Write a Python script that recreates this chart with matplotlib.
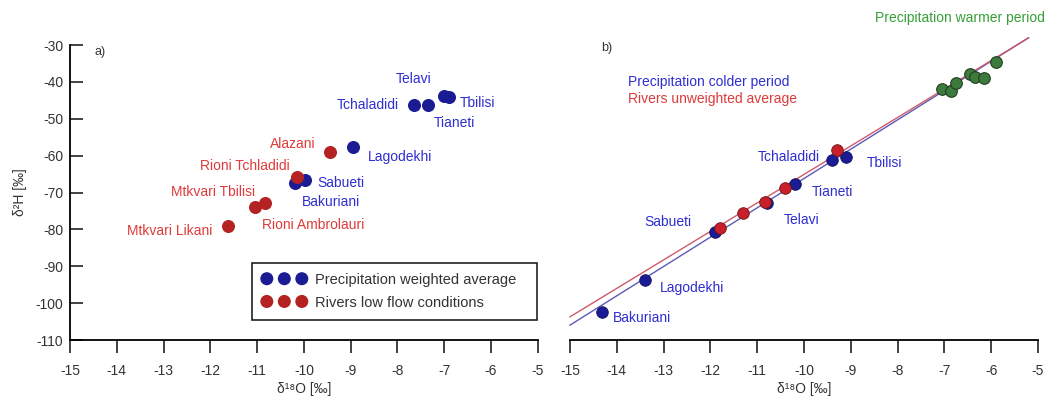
import matplotlib
matplotlib.use("Agg")
import matplotlib.pyplot as plt

plt.rcParams["font.family"] = ["Liberation Sans", "DejaVu Sans"]
plt.rcParams["axes.unicode_minus"] = False

# ---- panel a: precipitation weighted average / rivers low flow ----
a_prec_names = ["Telavi", "Tchaladidi", "Tbilisi", "Tianeti", "Lagodekhi",
                "Sabueti", "Bakuriani"]
a_prec_d18o = [-7.0, -7.65, -6.9, -7.35, -8.95, -9.98, -10.19]
a_prec_d2h = [-43.7, -46.2, -44.2, -46.2, -57.6, -66.6, -67.4]

a_riv_names = ["Alazani", "Rioni Tchladidi", "Mtkvari Tbilisi",
               "Rioni Ambrolauri", "Mtkvari Likani"]
a_riv_d18o = [-9.45, -10.15, -11.05, -10.83, -11.62]
a_riv_d2h = [-59.0, -65.8, -73.9, -72.8, -79.0]

# ---- panel b: precipitation colder / warmer period, rivers unweighted ----
b_prec_names = ["Tchaladidi", "Tbilisi", "Tianeti", "Telavi", "Sabueti",
                "Lagodekhi", "Bakuriani"]
b_prec_d18o = [-9.40, -9.10, -10.19, -10.79, -11.90, -13.40, -14.32]
b_prec_d2h = [-61.2, -60.4, -67.7, -72.8, -80.7, -93.7, -102.4]

b_riv_d18o = [-9.29, -10.41, -10.83, -11.30, -11.79]
b_riv_d2h = [-58.5, -68.8, -72.5, -75.5, -79.6]

b_warm_d18o = [-7.05, -6.85, -6.75, -6.45, -6.35, -6.15, -5.9]
b_warm_d2h = [-41.8, -42.5, -40.2, -37.8, -38.8, -39.0, -34.6]

# regression lines (slope, intercept)
prec_line = (7.95, 13.3)
riv_line = (7.72, 12.1)
line_x = [-15.0, -5.2]

x_ticks = list(range(-15, -4))
y_ticks = list(range(-110, -29, 10))

# label offsets in points (style only)
a_prec_offsets = [(-22, 12, "center"), (-11, 0, "right"), (8, -4, "left"),
                  (4, -13, "left"), (11, -7, "left"), (9, -2, "left"),
                  (5, -14, "left")]
a_riv_offsets = [(-10, 6, "right"), (-5, 8, "right"), (0, 11, "right"),
                 (-2, -16, "left"), (-11, -4, "right")]
b_prec_offsets = [(-9, 2, "right"), (15, -4, "left"), (12, -6, "left"),
                  (12, -12, "left"), (-17, 7, "right"), (11, -6, "left"),
                  (8, -4, "left")]

BLUE = "#1b1b94"
RED = "#b42222"
BLUE_TXT = "#2e2ed2"
RED_TXT = "#e03a3a"
GREEN = "#3d7a3d"
GREEN_TXT = "#35a035"

fig = plt.figure(figsize=(10.49, 4.01), dpi=100)
ax1 = fig.add_axes([0.0667, 0.152, 0.446, 0.7357])
ax2 = fig.add_axes([0.5434, 0.152, 0.446, 0.7357])

for ax in (ax1, ax2):
    ax.set_xlim(-15, -5)
    ax.set_ylim(-110, -30)
    ax.set_xticks(x_ticks)
    for side in ("top", "right"):
        ax.spines[side].set_visible(False)
    ax.spines["bottom"].set_linewidth(1.3)
    ax.spines["left"].set_linewidth(1.3)
    ax.tick_params(axis="x", direction="out", length=9, width=1.3,
                   pad=8, labelsize=10, colors="#333333")
    ax.set_xlabel("δ¹⁸O [‰]", fontsize=10, labelpad=3, color="#333333")

ax1.set_yticks(y_ticks)
ax1.tick_params(axis="y", direction="in", length=9, width=1.3, pad=5,
                labelsize=10, colors="#333333")
ax1.set_ylabel("δ²H [‰]", fontsize=10, labelpad=6, color="#333333")

ax2.spines["left"].set_visible(False)
ax2.tick_params(axis="y", left=False, labelleft=False)

# ---- panel a ----
sp = ax1.scatter(a_prec_d18o, a_prec_d2h, s=70, color=BLUE, zorder=3,
                 label="Precipitation weighted average")
sr = ax1.scatter(a_riv_d18o, a_riv_d2h, s=70, color=RED, zorder=3,
                 label="Rivers low flow conditions")
for name, x, y, (dx, dy, ha) in zip(a_prec_names, a_prec_d18o, a_prec_d2h,
                                    a_prec_offsets):
    ax1.annotate(name, (x, y), xytext=(dx, dy), textcoords="offset points",
                 ha=ha, va="center", fontsize=10, color=BLUE_TXT)
for name, x, y, (dx, dy, ha) in zip(a_riv_names, a_riv_d18o, a_riv_d2h,
                                    a_riv_offsets):
    ax1.annotate(name, (x, y), xytext=(dx, dy), textcoords="offset points",
                 ha=ha, va="center", fontsize=10, color=RED_TXT)

leg = ax1.legend(handles=[sp, sr], loc="lower left",
                 bbox_to_anchor=(0.374, 0.044, 0.64, 0.21), mode="expand",
                 scatterpoints=3, scatteryoffsets=[0.5], fancybox=False,
                 framealpha=1, edgecolor="#222222", fontsize=10.5,
                 handletextpad=0.6, borderpad=0.7, labelspacing=0.6,
                 handlelength=3.0)
leg.get_frame().set_linewidth(1.2)
for t in leg.get_texts():
    t.set_color("#333333")

ax1.text(0.064, 0.976, "a)", transform=ax1.transAxes, fontsize=9,
         ha="center", va="center", color="#333333")

# ---- panel b ----
ax2.plot(line_x, [prec_line[0] * v + prec_line[1] for v in line_x],
         color="#5a5ab8", lw=1.0, zorder=2, clip_on=False)
ax2.plot(line_x, [riv_line[0] * v + riv_line[1] for v in line_x],
         color="#cf5a6a", lw=1.0, zorder=2, clip_on=False)

ax2.scatter(b_warm_d18o, b_warm_d2h, s=70, color=GREEN, edgecolor="#1f3f1f",
            linewidth=0.8, zorder=3)
ax2.scatter(b_prec_d18o, b_prec_d2h, s=70, color=BLUE, edgecolor="#151560",
            linewidth=0.6, zorder=3)
ax2.scatter(b_riv_d18o, b_riv_d2h, s=70, color="#c8202a", edgecolor="#6a1515",
            linewidth=0.6, zorder=4)
for name, x, y, (dx, dy, ha) in zip(b_prec_names, b_prec_d18o, b_prec_d2h,
                                    b_prec_offsets):
    ax2.annotate(name, (x, y), xytext=(dx, dy), textcoords="offset points",
                 ha=ha, va="center", fontsize=10, color=BLUE_TXT)

ax2.text(0.079, 0.99, "b)", transform=ax2.transAxes, fontsize=9,
         ha="center", va="center", color="#333333")
ax2.text(0.124, 0.875, "Precipitation colder period",
         transform=ax2.transAxes, fontsize=10, ha="left", va="center",
         color=BLUE_TXT)
ax2.text(0.124, 0.818, "Rivers unweighted average",
         transform=ax2.transAxes, fontsize=10, ha="left", va="center",
         color=RED_TXT)
ax2.text(1.015, 1.092, "Precipitation warmer period",
         transform=ax2.transAxes, fontsize=10, ha="right", va="center",
         color=GREEN_TXT)

fig.savefig("out.png", dpi=100)
